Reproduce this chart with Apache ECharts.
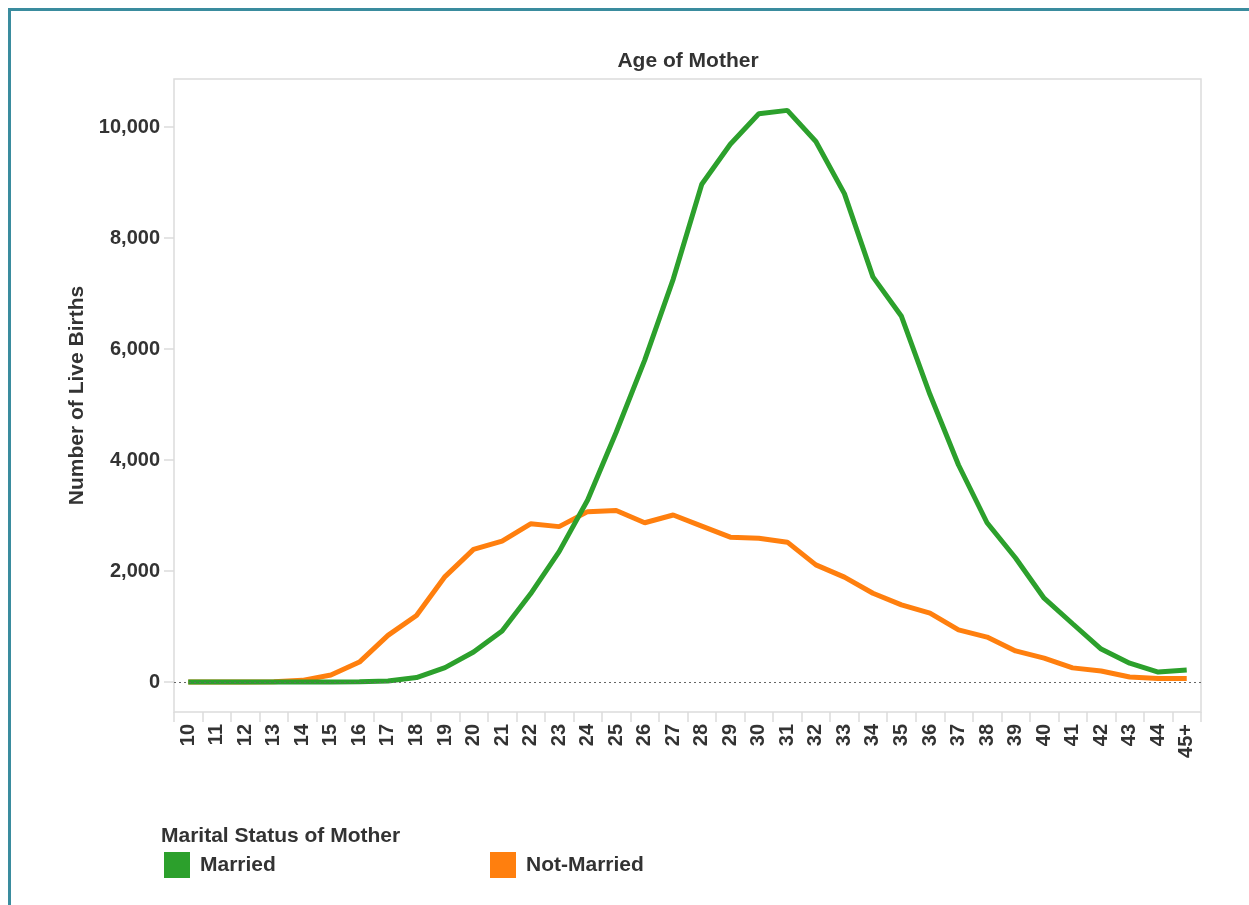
<!DOCTYPE html>
<html>
<head>
<meta charset="utf-8">
<title>Age of Mother</title>
<script src="https://cdn.jsdelivr.net/npm/echarts@6.0.0/dist/echarts.min.js"></script>
<style>
    html, body { margin: 0; padding: 0; background: #fff; overflow: hidden; }
    #frame {
        position: absolute; left: 8px; top: 8px; width: 1400px; height: 1100px;
        border-top: 3px solid #3a8c9e; border-left: 3px solid #3a8c9e;
    }
    #chart { position: absolute; left: 0; top: 0; width: 1249px; height: 905px; }
</style>
</head>
<body>
<div id="frame"></div>
<div id="chart"></div>
<script>
// 年龄分组（横轴）
var ages = ['10', '11', '12', '13', '14', '15', '16', '17', '18', '19', '20', '21', '22', '23', '24', '25', '26', '27',
    '28', '29', '30', '31', '32', '33', '34', '35', '36', '37', '38', '39', '40', '41', '42', '43', '44', '45+'];

// 已婚
var married = [0, 0, 0, 0, 0, 0, 5, 20, 80, 260, 540, 920, 1590, 2350, 3280, 4500, 5800, 7260,
    8970, 9690, 10240, 10300, 9740, 8800, 7300, 6590, 5180, 3910, 2870, 2235, 1510, 1050, 595, 340, 180, 215];

// 未婚
var notMarried = [0, 0, 0, 5, 30, 126, 360, 840, 1200, 1900, 2390, 2540, 2850, 2800, 3070, 3090, 2870, 3010,
    2810, 2610, 2590, 2520, 2110, 1890, 1600, 1390, 1240, 940, 810, 560, 430, 255, 198, 90, 65, 65];

// 纵轴刻度
var yTicks = [0, 2000, 4000, 6000, 8000, 10000];

var fontFamily = '"Liberation Sans", Arial, sans-serif';
var textColor = '#333333';
var greenColor = '#2ca02c';
var orangeColor = '#ff7f0e';

var chart = echarts.init(document.getElementById('chart'));

var option = {
    animation: false,
    textStyle: { fontFamily: fontFamily },
    title: [
        {
            text: 'Age of Mother',
            left: 683,
            top: 46,
            textAlign: 'center',
            textStyle: { fontSize: 21, fontWeight: 'bold', color: textColor, fontFamily: fontFamily }
        },
        {
            text: 'Marital Status of Mother',
            left: 161,
            top: 826,
            padding: 0,
            textStyle: { fontSize: 21, fontWeight: 'bold', color: textColor, fontFamily: fontFamily }
        }
    ],
    legend: [
        {
            data: ['Married'],
            left: 164,
            top: 852,
            padding: 0,
            icon: 'rect',
            itemWidth: 26,
            itemHeight: 26,
            selectedMode: false,
            textStyle: { fontSize: 21, fontWeight: 'bold', color: textColor, padding: [0, 0, 0, 5] }
        },
        {
            data: ['Not-Married'],
            left: 490,
            top: 852,
            padding: 0,
            icon: 'rect',
            itemWidth: 26,
            itemHeight: 26,
            selectedMode: false,
            textStyle: { fontSize: 21, fontWeight: 'bold', color: textColor, padding: [0, 0, 0, 5] }
        }
    ],
    grid: {
        left: 174,
        top: 79,
        width: 1027,
        height: 633,
        show: true,
        borderColor: '#dcdcdc',
        borderWidth: 1.5,
        containLabel: false
    },
    xAxis: {
        type: 'category',
        data: ages,
        boundaryGap: true,
        axisLine: { show: false, onZero: false },
        axisTick: {
            show: true,
            interval: 0,
            length: 10,
            lineStyle: { color: '#dcdcdc', width: 1.5 }
        },
        axisLabel: {
            interval: 0,
            rotate: 90,
            margin: 12,
            fontSize: 20,
            fontWeight: 'bold',
            color: textColor
        },
        splitLine: { show: false }
    },
    yAxis: {
        type: 'value',
        min: -540,
        max: 10865,
        name: 'Number of Live Births',
        nameLocation: 'middle',
        nameRotate: 90,
        nameGap: 86,
        nameTextStyle: { fontSize: 21, fontWeight: 'bold', color: textColor },
        axisLine: { show: false },
        axisTick: {
            show: true,
            length: 10,
            customValues: yTicks,
            lineStyle: { color: '#dcdcdc', width: 1.5 }
        },
        axisLabel: {
            customValues: yTicks,
            margin: 14,
            fontSize: 20,
            fontWeight: 'bold',
            color: textColor,
            formatter: function (v) {
                return Number(v).toLocaleString('en-US');
            }
        },
        splitLine: { show: false }
    },
    series: [
        {
            // 零值虚线
            name: 'zero',
            type: 'line',
            data: [],
            z: 1,
            silent: true,
            markLine: {
                silent: true,
                symbol: ['none', 'none'],
                label: { show: false },
                lineStyle: { color: '#666666', width: 1, type: [2, 3] },
                data: [{ yAxis: 0 }]
            }
        },
        {
            name: 'Not-Married',
            type: 'line',
            data: notMarried,
            z: 2,
            showSymbol: false,
            color: orangeColor,
            lineStyle: { width: 5, color: orangeColor }
        },
        {
            name: 'Married',
            type: 'line',
            data: married,
            z: 3,
            showSymbol: false,
            color: greenColor,
            lineStyle: { width: 5, color: greenColor }
        }
    ]
};

option && chart.setOption(option);
</script>
</body>
</html>
